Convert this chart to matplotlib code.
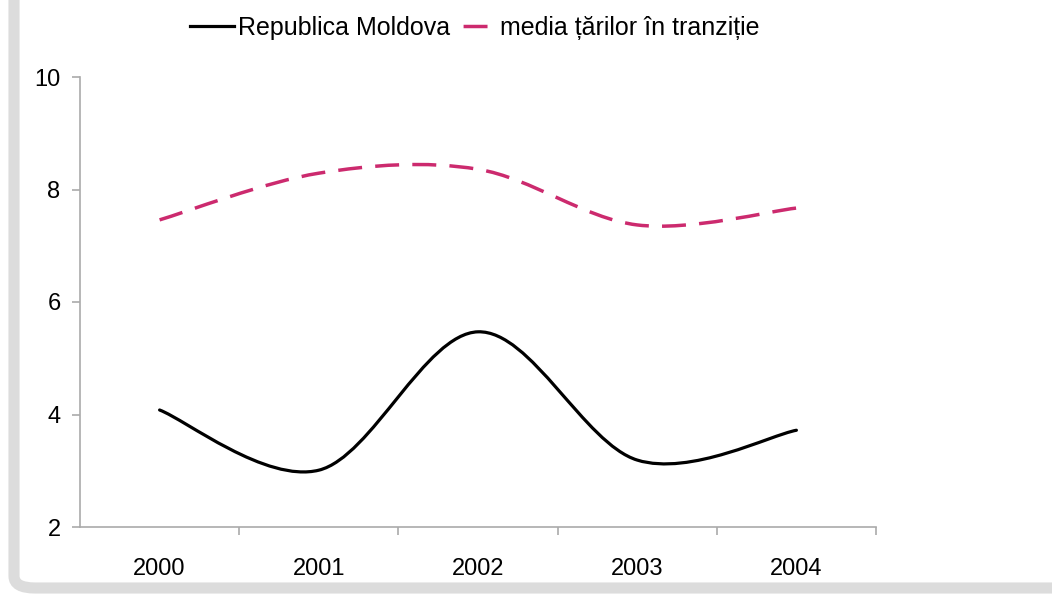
import matplotlib.pyplot as plt
from matplotlib.path import Path
from matplotlib.patches import PathPatch, FancyBboxPatch
from matplotlib.lines import Line2D

plt.rcParams['font.family'] = ['Liberation Sans', 'DejaVu Sans']

years = ['2000', '2001', '2002', '2003', '2004']
moldova = [4.08, 3.01, 5.47, 3.19, 3.72]
tranzitie = [7.46, 8.29, 8.36, 7.37, 7.67]

PINK = '#cc2a6e'
AXIS_GRAY = '#aaaaaa'


def smooth_path(ys):
    # Excel-style smoothed line: cubic bezier, control points at 1/6 of neighbour slope
    xs = list(range(len(ys)))
    pts = list(zip(xs, ys))
    verts = [pts[0]]
    codes = [Path.MOVETO]
    for i in range(len(pts) - 1):
        p0 = pts[i - 1] if i > 0 else pts[i]
        p1 = pts[i]
        p2 = pts[i + 1]
        p3 = pts[i + 2] if i + 2 < len(pts) else pts[i + 1]
        c1 = (p1[0] + (p2[0] - p0[0]) / 6, p1[1] + (p2[1] - p0[1]) / 6)
        c2 = (p2[0] - (p3[0] - p1[0]) / 6, p2[1] - (p3[1] - p1[1]) / 6)
        verts += [c1, c2, p2]
        codes += [Path.CURVE4] * 3
    return Path(verts, codes)


fig = plt.figure(figsize=(10.52, 5.96), dpi=100)

# gray frame on the left and bottom with rounded corners
frame = FancyBboxPatch((14 / 1052, 8 / 596), 1.2, 1.2,
                       boxstyle='round,pad=0,rounding_size=0.02',
                       transform=fig.transFigure, facecolor='white',
                       edgecolor='#dcdcdc', linewidth=8.0, zorder=-5)
fig.patches.append(frame)

ax = fig.add_axes([80 / 1052, 1 - 527 / 596, (876 - 80) / 1052, (527 - 77) / 596])
ax.set_facecolor('none')
ax.set_zorder(2)

ax.add_patch(PathPatch(smooth_path(moldova), facecolor='none', edgecolor='black',
                       linewidth=2.3, capstyle='round'))
ax.add_patch(PathPatch(smooth_path(tranzitie), facecolor='none', edgecolor=PINK,
                       linewidth=2.5, linestyle=(0, (6.9, 3.8)), capstyle='butt'))

ax.set_xlim(-0.5, len(years) - 0.5)
ax.set_ylim(2, 10)
ax.set_yticks([2, 4, 6, 8, 10])
ax.set_xticks(range(len(years)))
ax.set_xticklabels(years)
ax.set_xticks([i + 0.5 for i in range(len(years))], minor=True)

for s in ['top', 'right']:
    ax.spines[s].set_visible(False)
for s in ['left', 'bottom']:
    ax.spines[s].set_color(AXIS_GRAY)
    ax.spines[s].set_linewidth(1.2)

ax.tick_params(axis='x', which='major', length=0, pad=22, labelsize=17)
ax.tick_params(axis='x', which='minor', length=6, color=AXIS_GRAY, width=1.2)
ax.tick_params(axis='y', length=6, color=AXIS_GRAY, width=1.2, pad=8, labelsize=17)

handles = [Line2D([], [], color='black', linewidth=2.3),
           Line2D([], [], color=PINK, linewidth=2.5, linestyle=(7.8, (6.9, 3.8)))]
fig.legend(handles, ['Republica Moldova', 'media țărilor în tranziție'],
           loc='center', bbox_to_anchor=(475 / 1052, 1 - 28 / 596), ncol=2,
           frameon=False, fontsize=18, handlelength=1.75, handletextpad=0.15,
           columnspacing=0.1)

fig.savefig('out.png', dpi=100)
